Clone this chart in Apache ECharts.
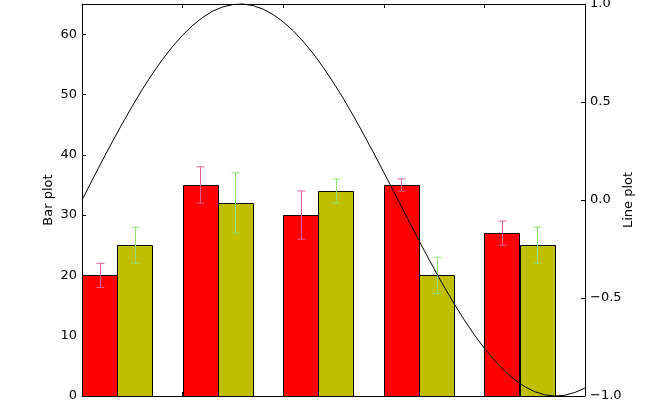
<!DOCTYPE html>
<html>
<head>
<meta charset="UTF-8">
<title>Bar plot and line plot</title>
<script type="text/javascript" src="https://cdn.jsdelivr.net/npm/echarts@6/dist/echarts.min.js"></script>
<style>
  *{margin:0;padding:0}
  html,body{width:100%;height:100%;background:#fff}
  #main{width:650px;height:400px}
</style>
</head>
<body>
<div id="main"></div>
<script type="text/javascript">
// bar groups sit at x = 0..4, each bar 0.35 wide
var groups = [0, 1, 2, 3, 4];
var redValues = [20, 35, 30, 35, 27];
var redErrors = [2, 3, 4, 1, 2];
var yellowValues = [25, 32, 34, 20, 25];
var yellowErrors = [3, 5, 2, 3, 3];
var barWidth = 0.35;

// line (right axis), x from 0 to 5 in steps of 0.1
var lineY = [
  0, 0.100, 0.199, 0.296, 0.389, 0.479, 0.565, 0.644, 0.717, 0.783,
  0.841, 0.891, 0.932, 0.964, 0.985, 0.997, 1.000, 0.992, 0.974, 0.946,
  0.909, 0.863, 0.808, 0.746, 0.675, 0.598, 0.516, 0.427, 0.335, 0.239,
  0.141, 0.042, -0.058, -0.158, -0.256, -0.351, -0.443, -0.530, -0.612, -0.688,
  -0.757, -0.818, -0.872, -0.916, -0.952, -0.978, -0.994, -1.000, -0.996, -0.982,
  -0.959
];
var lineStep = 0.1;

var leftTicks = [0, 10, 20, 30, 40, 50, 60];
var rightTicks = [-1.0, -0.5, 0.0, 0.5, 1.0];

var font = 'DejaVu Sans';

function barSeries(name, values, offset, color) {
  return {
    name: name,
    type: 'custom',
    xAxisIndex: 0,
    yAxisIndex: 0,
    data: groups.map(function (g, i) { return [g + offset, values[i]]; }),
    renderItem: function (params, api) {
      var p0 = api.coord([api.value(0), api.value(1)]);
      var p1 = api.coord([api.value(0) + barWidth, 0]);
      return {
        type: 'rect',
        shape: { x: Math.round(p0[0]) + 0.5, y: Math.round(p0[1]) + 0.5, width: Math.round(p1[0] - p0[0]), height: Math.round(p1[1] - p0[1]) },
        style: { fill: color, stroke: '#000', lineWidth: 1 }
      };
    },
    z: 2
  };
}

function errorSeries(name, values, errors, offset, color) {
  return {
    name: name,
    type: 'custom',
    xAxisIndex: 0,
    yAxisIndex: 0,
    data: groups.map(function (g, i) { return [g + offset + barWidth / 2, values[i], errors[i]]; }),
    renderItem: function (params, api) {
      var x = api.value(0), v = api.value(1), e = api.value(2);
      var top = api.coord([x, v + e]);
      var bot = api.coord([x, v - e]);
      var cx = Math.round(top[0]) + 0.5;
      var st = { stroke: color, lineWidth: 1 };
      return {
        type: 'group',
        children: [
          { type: 'line', shape: { x1: cx, y1: top[1], x2: cx, y2: bot[1] }, style: st },
          { type: 'line', shape: { x1: cx - 4, y1: top[1], x2: cx + 4, y2: top[1] }, style: st },
          { type: 'line', shape: { x1: cx - 4, y1: bot[1], x2: cx + 4, y2: bot[1] }, style: st }
        ]
      };
    },
    z: 3
  };
}

var option = {
  animation: false,
  grid: { left: 82, right: 65, top: 4, bottom: 4, containLabel: false, outerBoundsMode: 'none' },
  xAxis: [
    {
      type: 'value', min: 0, max: 5, interval: 1, position: 'bottom',
      axisLine: { show: true, onZero: false, lineStyle: { color: '#000', width: 1 } },
      axisTick: { show: true, inside: true, length: 4, lineStyle: { color: '#000' } },
      axisLabel: { show: false },
      splitLine: { show: false }
    },
    {
      type: 'value', min: 0, max: 5, interval: 1, position: 'top',
      axisLine: { show: true, onZero: false, lineStyle: { color: '#000', width: 1 } },
      axisTick: { show: true, inside: true, length: 4, lineStyle: { color: '#000' } },
      axisLabel: { show: false },
      splitLine: { show: false }
    }
  ],
  yAxis: [
    {
      type: 'value', min: 0, max: 65, interval: 10, position: 'left',
      name: 'Bar plot', nameLocation: 'middle', nameGap: 27, nameRotate: 90, nameMoveOverlap: false,
      nameTextStyle: { color: '#000', fontFamily: font, fontSize: 13 },
      axisLine: { show: true, onZero: false, lineStyle: { color: '#000', width: 1 } },
      axisTick: { show: true, inside: true, length: 4, lineStyle: { color: '#000' } },
      axisLabel: {
        color: '#000', fontFamily: font, fontSize: 13, margin: 5,
        formatter: function (v) { return leftTicks.indexOf(v) >= 0 ? String(v) : ''; }
      },
      splitLine: { show: false }
    },
    {
      type: 'value', min: -1, max: 1, interval: 0.5, position: 'right',
      name: 'Line plot', nameLocation: 'middle', nameGap: 37, nameRotate: 90, nameMoveOverlap: false,
      nameTextStyle: { color: '#000', fontFamily: font, fontSize: 13 },
      axisLine: { show: true, onZero: false, lineStyle: { color: '#000', width: 1 } },
      axisTick: { show: true, inside: true, length: 4, lineStyle: { color: '#000' } },
      axisLabel: {
        color: '#000', fontFamily: font, fontSize: 13, margin: 5,
        formatter: function (v) {
          var t = rightTicks.filter(function (r) { return Math.abs(r - v) < 1e-9; });
          if (!t.length) return '';
          return t[0].toFixed(1).replace('-', '\u2212');
        }
      },
      splitLine: { show: false }
    }
  ],
  series: [
    barSeries('red', redValues, 0, '#ff0000'),
    barSeries('yellow', yellowValues, barWidth, '#bfbf00'),
    errorSeries('red err', redValues, redErrors, 0, '#e0609a'),
    errorSeries('yellow err', yellowValues, yellowErrors, barWidth, '#90e070'),
    {
      name: 'line',
      type: 'line',
      xAxisIndex: 0,
      yAxisIndex: 1,
      data: lineY.map(function (y, i) { return [i * lineStep, y]; }),
      smooth: false,
      showSymbol: false,
      clip: false,
      lineStyle: { color: '#000', width: 1 },
      z: 4
    }
  ]
};

var myChart = echarts.init(document.getElementById('main'));
myChart.setOption(option);
</script>
</body>
</html>
